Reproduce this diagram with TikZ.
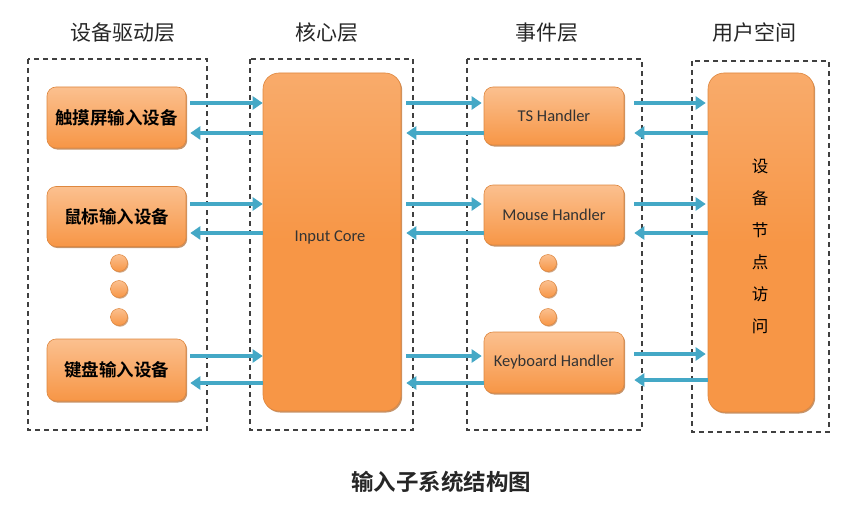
\documentclass[tikz,border=0pt]{standalone}
\usepackage{fontspec}
\newfontfamily\cjk{Noto Sans CJK SC}
\newfontfamily\cjkb{Noto Sans CJK SC Bold}
\newfontfamily\lat{Carlito}
\usetikzlibrary{arrows.meta,shadows}
\definecolor{orfill}{HTML}{F79646}
\definecolor{orlight}{HTML}{FBC08F}
\definecolor{ordark}{HTML}{E46C0A}
\definecolor{arrblue}{HTML}{44A8C6}
\definecolor{dashgray}{HTML}{404040}
\tikzset{
  layerbox/.style={draw=dashgray, line width=1.4pt, dash pattern=on 5pt off 4pt},
  block/.style={draw=orfill!90!black, line width=0.6pt, rounded corners=9pt,
    top color=orlight, bottom color=orfill, inner sep=0pt,
    drop shadow={shadow xshift=1.2pt, shadow yshift=-1.5pt, fill=ordark!70!black, opacity=0.6}},
  bigblock/.style={block, rounded corners=16pt, top color=orfill!80, bottom color=orfill,
    middle color=orfill},
  dotnode/.style={circle, minimum size=17pt, inner sep=0pt, draw=orfill!90!black, line width=0.5pt,
    top color=orlight, bottom color=orfill,
    drop shadow={shadow xshift=1pt, shadow yshift=-1.2pt, fill=ordark!70!black, opacity=0.5}},
  arr/.style={draw=arrblue, line width=3.4pt, -{Triangle[length=10pt,width=13pt]}},
  title/.style={font=\cjk\fontsize{21}{24}\selectfont, text=black!85},
  cnlabel/.style={font=\cjkb\fontsize{17.5}{20}\selectfont, text=black},
  enlabel/.style={font=\lat\fontsize{16.5}{19}\selectfont, text=black!80},
}
\begin{document}
\begin{tikzpicture}[x=1pt,y=-1pt]
\useasboundingbox (0,0) rectangle (866,524);
% layer boxes
\draw[layerbox] (28,59) rectangle (207,430);
\draw[layerbox] (250,59) rectangle (413,430);
\draw[layerbox] (467,59) rectangle (642,430);
\draw[layerbox] (692,61) rectangle (829,432);
% titles
\node[title] (t1) at (123,33) {设备驱动层};
\node[title] (t2) at (327,33) {核心层};
\node[title] (t3) at (547,33) {事件层};
\node[title] (t4) at (754,33) {用户空间};
% left blocks
\node[block, minimum width=139pt, minimum height=61pt, cnlabel] (ts) at (116.5,117.5) {触摸屏输入设备};
\node[block, minimum width=139pt, minimum height=60pt, cnlabel] (ms) at (116.5,216.5) {鼠标输入设备};
\node[block, minimum width=139pt, minimum height=62pt, cnlabel] (kb) at (116.5,370) {键盘输入设备};
\node[dotnode] (d1) at (119,263) {};
\node[dotnode] (d2) at (119,289) {};
\node[dotnode] (d3) at (119,317) {};
% core
\node[bigblock, minimum width=138pt, minimum height=338pt, enlabel] (core) at (332,242) {};
\node[enlabel] (corelbl) at (330,237) {Input Core};
% event blocks
\node[block, minimum width=140pt, minimum height=58pt, enlabel] (tsh) at (554,116) {TS Handler};
\node[block, minimum width=140pt, minimum height=60pt, enlabel] (msh) at (554,215) {Mouse Handler};
\node[block, minimum width=140pt, minimum height=61pt, enlabel] (kbh) at (554,362.5) {Keyboard Handler};
\node[dotnode] (e1) at (548,263) {};
\node[dotnode] (e2) at (548,289) {};
\node[dotnode] (e3) at (548,317) {};
% user space
\node[bigblock, minimum width=106pt, minimum height=339pt] (user) at (761,242.5) {};
\node[font=\cjk\fontsize{16.5}{18}\selectfont, align=center] (userlbl) at (760,246) {设\\[14pt]备\\[14pt]节\\[14pt]点\\[14pt]访\\[14pt]问};
% arrows left-core
\draw[arr] (ts.east |- 0,103) ++(4,0) -- (core.west |- 0,103);
\draw[arr] (core.west |- 0,133) -- ([xshift=4pt]ts.east |- 0,133);
\draw[arr] (ms.east |- 0,204) ++(4,0) -- (core.west |- 0,204);
\draw[arr] (core.west |- 0,233) -- ([xshift=4pt]ms.east |- 0,233);
\draw[arr] (kb.east |- 0,356) ++(4,0) -- (core.west |- 0,356);
\draw[arr] (core.west |- 0,383) -- ([xshift=4pt]kb.east |- 0,383);
% arrows core-events
\draw[arr] ([xshift=5pt]core.east |- 0,103) -- ([xshift=-2pt]tsh.west |- 0,103);
\draw[arr] (tsh.west |- 0,133) -- ([xshift=5pt]core.east |- 0,133);
\draw[arr] ([xshift=5pt]core.east |- 0,204) -- ([xshift=-2pt]msh.west |- 0,204);
\draw[arr] (msh.west |- 0,233) -- ([xshift=5pt]core.east |- 0,233);
\draw[arr] ([xshift=5pt]core.east |- 0,356) -- ([xshift=-2pt]kbh.west |- 0,356);
\draw[arr] (kbh.west |- 0,383) -- ([xshift=5pt]core.east |- 0,383);
% arrows events-user
\draw[arr] ([xshift=10pt]tsh.east |- 0,103) -- ([xshift=-2pt]user.west |- 0,103);
\draw[arr] (user.west |- 0,133) -- ([xshift=10pt]tsh.east |- 0,133);
\draw[arr] ([xshift=10pt]msh.east |- 0,204) -- ([xshift=-2pt]user.west |- 0,204);
\draw[arr] (user.west |- 0,233) -- ([xshift=10pt]msh.east |- 0,233);
\draw[arr] ([xshift=10pt]kbh.east |- 0,354) -- ([xshift=-2pt]user.west |- 0,354);
\draw[arr] (user.west |- 0,380) -- ([xshift=10pt]kbh.east |- 0,380);
% caption
\node[font=\cjkb\fontsize{22.5}{26}\selectfont, text=black!85] (cap) at (441,482) {输入子系统结构图};
\end{tikzpicture}
\end{document}
